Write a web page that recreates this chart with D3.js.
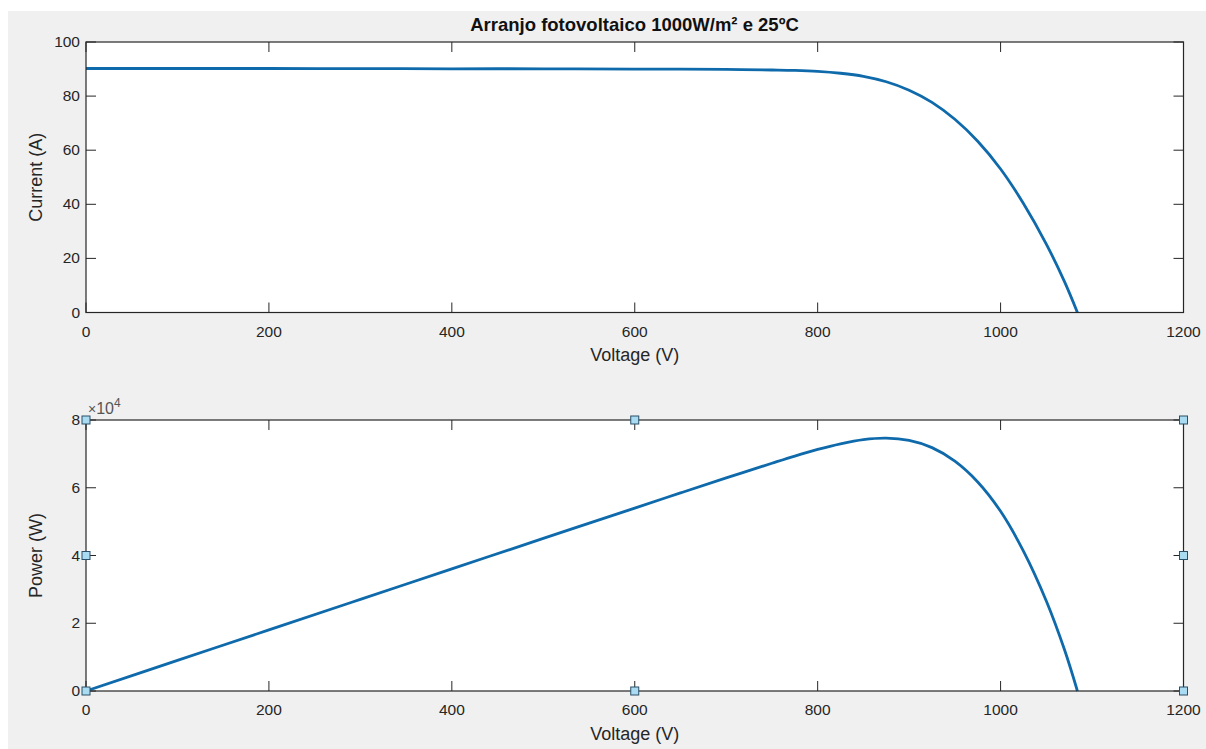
<!DOCTYPE html>
<html><head><meta charset="utf-8">
<script src="https://cdn.jsdelivr.net/npm/d3@7"></script>
<style>html,body{margin:0;padding:0;background:#fff;}svg{display:block;}</style>
</head><body>
<script>
// ---- data ----
const titleText = "Arranjo fotovoltaico 1000W/m\u00B2 e 25\u00BAC";
const voltage = [0, 100, 200, 300, 400, 500, 600, 650, 700, 750, 775, 800, 825, 850, 875, 900, 925, 950, 975, 1000, 1025, 1050, 1070, 1084];
const current = [90.2, 90.2, 90.2, 90.15, 90.1, 90.1, 90.0, 89.95, 89.85, 89.65, 89.5, 89.15, 88.45, 87.3, 85.3, 82.18, 77.68, 71.43, 63.3, 53.05, 40.3, 25.3, 11.3, 0];
const power = [0, 9020, 18040, 27045, 36040, 45050, 54000, 58470, 62900, 67240, 69360, 71320, 72970, 74200, 74640, 73960, 71850, 67860, 61720, 53050, 41310, 26570, 12090, 0];
const xTicks = [0, 200, 400, 600, 800, 1000, 1200];
const currentTicks = [0, 20, 40, 60, 80, 100];
const powerTicks = [0, 20000, 40000, 60000, 80000];
const handleX = [0, 600, 1200];
const handleY = [0, 40000, 80000];

const W = 1206, H = 749;
const FONT = "'Liberation Sans', Arial, sans-serif";
const AX = "#262626";
const LINE = "#0f6aab";

const svg = d3.select("body").append("svg").attr("width", W).attr("height", H);
svg.append("rect").attr("x", 8).attr("y", 11).attr("width", W - 8).attr("height", H - 11).attr("fill", "#f0f0f0");

const x = d3.scaleLinear().domain([0, 1200]).range([86, 1183.5]);

function panel(y0, y1, yDomain, yTicks, yFmt, yData, yLabel, xLabelY) {
  const y = d3.scaleLinear().domain(yDomain).range([y1, y0]);
  const g = svg.append("g");
  g.append("rect").attr("x", x.range()[0]).attr("y", y0)
    .attr("width", x.range()[1] - x.range()[0]).attr("height", y1 - y0).attr("fill", "#fff");
  const TL = 10;
  xTicks.forEach(t => {
    g.append("line").attr("x1", x(t)).attr("x2", x(t)).attr("y1", y1).attr("y2", y1 - TL).attr("stroke", AX);
    g.append("line").attr("x1", x(t)).attr("x2", x(t)).attr("y1", y0).attr("y2", y0 + TL).attr("stroke", AX);
    g.append("text").attr("x", x(t)).attr("y", y1 + 24).attr("text-anchor", "middle")
      .attr("font-family", FONT).attr("font-size", 15.5).attr("fill", AX).text(t);
  });
  yTicks.forEach(t => {
    g.append("line").attr("x1", x.range()[0]).attr("x2", x.range()[0] + TL).attr("y1", y(t)).attr("y2", y(t)).attr("stroke", AX);
    g.append("line").attr("x1", x.range()[1]).attr("x2", x.range()[1] - TL).attr("y1", y(t)).attr("y2", y(t)).attr("stroke", AX);
    g.append("text").attr("x", x.range()[0] - 6).attr("y", y(t) + 5).attr("text-anchor", "end")
      .attr("font-family", FONT).attr("font-size", 15.5).attr("fill", AX).text(yFmt(t));
  });
  const pts = voltage.map((v, i) => [v, yData[i]]);
  g.append("path").datum(pts)
    .attr("d", d3.line().x(d => x(d[0])).y(d => y(d[1])).curve(d3.curveCatmullRom.alpha(0.5)))
    .attr("fill", "none").attr("stroke", LINE).attr("stroke-width", 2.8).attr("stroke-linejoin", "round");
  g.append("rect").attr("x", x.range()[0]).attr("y", y0)
    .attr("width", x.range()[1] - x.range()[0]).attr("height", y1 - y0)
    .attr("fill", "none").attr("stroke", AX).attr("stroke-width", 1.2);
  g.append("text").attr("x", (x.range()[0] + x.range()[1]) / 2).attr("y", xLabelY).attr("text-anchor", "middle")
    .attr("font-family", FONT).attr("font-size", 18).attr("fill", AX).text("Voltage (V)");
  g.append("text").attr("transform", `translate(42,${(y0 + y1) / 2}) rotate(-90)`).attr("text-anchor", "middle")
    .attr("font-family", FONT).attr("font-size", 18).attr("fill", AX).text(yLabel);
  return y;
}

panel(42, 312.5, [0, 100], currentTicks, d => d, current, "Current (A)", 361);
const yP = panel(420, 691, [0, 80000], powerTicks, d => d / 10000, power, "Power (W)", 740);

// exponent label
const ex = svg.append("text").attr("x", 88).attr("y", 414).attr("font-family", FONT).attr("fill", "#555");
ex.append("tspan").attr("font-size", 14).text("\u00D7");
ex.append("tspan").attr("font-size", 16).text("10");
ex.append("tspan").attr("font-size", 12).attr("dy", -7).text("4");

svg.append("text").attr("x", 634.5).attr("y", 31).attr("text-anchor", "middle")
  .attr("font-family", FONT).attr("font-size", 18.5).attr("font-weight", "bold").attr("fill", "#111").text(titleText);

// selection handles on the power axes
handleX.forEach(hx => handleY.forEach(hy => {
  if (hx === 600 && hy === 40000) return;
  svg.append("rect").attr("x", x(hx) - 4).attr("y", yP(hy) - 4).attr("width", 8).attr("height", 8)
    .attr("fill", "#a9dcf3").attr("stroke", "#2b4f66").attr("stroke-width", 1);
}));
</script>
</body></html>
